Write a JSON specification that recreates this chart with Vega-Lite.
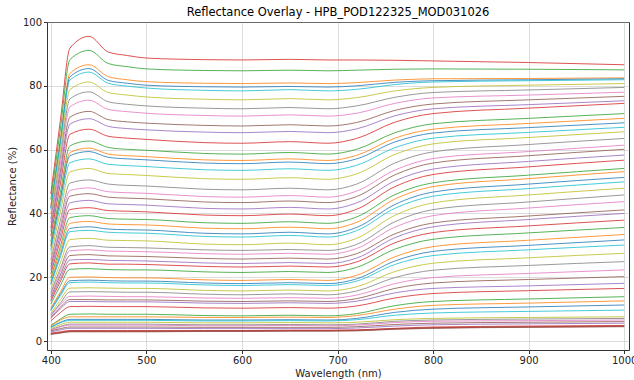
{
"$schema": "https://vega.github.io/schema/vega-lite/v6.json",
"width": 582, "height": 328,
"autosize": {"type": "none"},
"padding": {"left": 47, "top": 22, "right": 5, "bottom": 30},
"background": "white",
"title": {"text": "Reflectance Overlay - HPB_POD122325_MOD031026", "fontSize": 11.5, "fontWeight": "normal", "font": "DejaVu Sans", "color": "black", "offset": -1, "anchor": "middle"},
"config": {
 "view": {"stroke": "#333333", "strokeWidth": 1},
 "axis": {"domain": false, "tickColor": "#333333", "tickSize": 3.5, "labelFont": "DejaVu Sans", "labelFontSize": 10, "labelColor": "#222222", "titleFont": "DejaVu Sans", "titleFontSize": 10, "titleFontWeight": "normal", "titleColor": "#222222", "gridColor": "#b0b0b0", "gridOpacity": 0.55, "gridWidth": 0.8}
},
"data": {"values": [
{"s":1,"w":400,"r":46.1},{"s":1,"w":410,"r":69.2},{"s":1,"w":420,"r":91.8},{"s":1,"w":440,"r":95.5},{"s":1,"w":460,"r":90.6},{"s":1,"w":480,"r":89.5},{"s":1,"w":500,"r":88.7},{"s":1,"w":560,"r":88.2},{"s":1,"w":600,"r":88.1},{"s":1,"w":650,"r":88.3},{"s":1,"w":690,"r":88.1},{"s":1,"w":720,"r":88.1},{"s":1,"w":760,"r":88.0},{"s":1,"w":800,"r":87.8},{"s":1,"w":900,"r":87.3},{"s":1,"w":1000,"r":86.6},
{"s":2,"w":400,"r":44.4},{"s":2,"w":410,"r":66.5},{"s":2,"w":420,"r":88.2},{"s":2,"w":440,"r":91.1},{"s":2,"w":460,"r":87.0},{"s":2,"w":480,"r":86.0},{"s":2,"w":500,"r":85.3},{"s":2,"w":560,"r":84.8},{"s":2,"w":600,"r":84.7},{"s":2,"w":650,"r":84.9},{"s":2,"w":690,"r":84.7},{"s":2,"w":720,"r":84.9},{"s":2,"w":760,"r":85.2},{"s":2,"w":800,"r":85.3},{"s":2,"w":900,"r":85.2},{"s":2,"w":1000,"r":85.0},
{"s":3,"w":400,"r":42.3},{"s":3,"w":410,"r":63.4},{"s":3,"w":420,"r":83.9},{"s":3,"w":440,"r":86.6},{"s":3,"w":460,"r":82.9},{"s":3,"w":480,"r":81.9},{"s":3,"w":500,"r":81.3},{"s":3,"w":560,"r":80.8},{"s":3,"w":600,"r":80.7},{"s":3,"w":650,"r":80.9},{"s":3,"w":690,"r":80.7},{"s":3,"w":720,"r":81.0},{"s":3,"w":760,"r":81.8},{"s":3,"w":800,"r":82.2},{"s":3,"w":900,"r":82.3},{"s":3,"w":1000,"r":82.5},
{"s":4,"w":400,"r":41.7},{"s":4,"w":410,"r":62.6},{"s":4,"w":420,"r":82.8},{"s":4,"w":440,"r":85.4},{"s":4,"w":460,"r":81.7},{"s":4,"w":480,"r":80.8},{"s":4,"w":500,"r":80.2},{"s":4,"w":560,"r":79.7},{"s":4,"w":600,"r":79.6},{"s":4,"w":650,"r":79.8},{"s":4,"w":690,"r":79.6},{"s":4,"w":720,"r":80.0},{"s":4,"w":760,"r":81.1},{"s":4,"w":800,"r":81.6},{"s":4,"w":900,"r":81.9},{"s":4,"w":1000,"r":82.2},
{"s":5,"w":400,"r":41.2},{"s":5,"w":410,"r":61.9},{"s":5,"w":420,"r":81.8},{"s":5,"w":440,"r":84.3},{"s":5,"w":460,"r":80.8},{"s":5,"w":480,"r":79.9},{"s":5,"w":500,"r":79.3},{"s":5,"w":560,"r":78.6},{"s":5,"w":600,"r":78.4},{"s":5,"w":650,"r":78.8},{"s":5,"w":690,"r":78.4},{"s":5,"w":720,"r":78.9},{"s":5,"w":760,"r":80.4},{"s":5,"w":800,"r":81.2},{"s":5,"w":900,"r":81.6},{"s":5,"w":1000,"r":81.9},
{"s":6,"w":400,"r":39.8},{"s":6,"w":410,"r":59.7},{"s":6,"w":420,"r":78.8},{"s":6,"w":440,"r":81.2},{"s":6,"w":460,"r":77.9},{"s":6,"w":480,"r":77.1},{"s":6,"w":500,"r":76.5},{"s":6,"w":560,"r":75.8},{"s":6,"w":600,"r":75.6},{"s":6,"w":650,"r":76.0},{"s":6,"w":690,"r":75.6},{"s":6,"w":720,"r":76.3},{"s":6,"w":760,"r":78.4},{"s":6,"w":800,"r":79.5},{"s":6,"w":900,"r":80.2},{"s":6,"w":1000,"r":80.7},
{"s":7,"w":400,"r":38.3},{"s":7,"w":410,"r":57.5},{"s":7,"w":420,"r":75.9},{"s":7,"w":440,"r":78.1},{"s":7,"w":460,"r":75.0},{"s":7,"w":480,"r":74.2},{"s":7,"w":500,"r":73.7},{"s":7,"w":560,"r":73.0},{"s":7,"w":600,"r":72.8},{"s":7,"w":650,"r":73.2},{"s":7,"w":690,"r":72.8},{"s":7,"w":720,"r":73.7},{"s":7,"w":760,"r":76.4},{"s":7,"w":800,"r":77.9},{"s":7,"w":900,"r":78.7},{"s":7,"w":1000,"r":79.5},
{"s":8,"w":400,"r":37.1},{"s":8,"w":410,"r":55.7},{"s":8,"w":420,"r":73.4},{"s":8,"w":440,"r":75.5},{"s":8,"w":460,"r":72.6},{"s":8,"w":480,"r":71.9},{"s":8,"w":500,"r":71.4},{"s":8,"w":560,"r":70.7},{"s":8,"w":600,"r":70.5},{"s":8,"w":650,"r":70.9},{"s":8,"w":690,"r":70.5},{"s":8,"w":720,"r":71.4},{"s":8,"w":760,"r":74.5},{"s":8,"w":800,"r":76.2},{"s":8,"w":900,"r":77.1},{"s":8,"w":1000,"r":78.0},
{"s":9,"w":400,"r":35.5},{"s":9,"w":410,"r":53.3},{"s":9,"w":420,"r":70.2},{"s":9,"w":440,"r":72.0},{"s":9,"w":460,"r":69.4},{"s":9,"w":480,"r":68.7},{"s":9,"w":500,"r":68.3},{"s":9,"w":560,"r":67.6},{"s":9,"w":600,"r":67.4},{"s":9,"w":650,"r":67.8},{"s":9,"w":690,"r":67.4},{"s":9,"w":720,"r":68.5},{"s":9,"w":760,"r":72.3},{"s":9,"w":800,"r":74.3},{"s":9,"w":900,"r":75.6},{"s":9,"w":1000,"r":76.7},
{"s":10,"w":400,"r":34.4},{"s":10,"w":410,"r":51.6},{"s":10,"w":420,"r":68.0},{"s":10,"w":440,"r":69.7},{"s":10,"w":460,"r":67.3},{"s":10,"w":480,"r":66.6},{"s":10,"w":500,"r":66.2},{"s":10,"w":560,"r":65.5},{"s":10,"w":600,"r":65.3},{"s":10,"w":650,"r":65.7},{"s":10,"w":690,"r":65.3},{"s":10,"w":720,"r":66.5},{"s":10,"w":760,"r":70.6},{"s":10,"w":800,"r":72.8},{"s":10,"w":900,"r":74.1},{"s":10,"w":1000,"r":75.3},
{"s":11,"w":400,"r":32.9},{"s":11,"w":410,"r":49.3},{"s":11,"w":420,"r":64.8},{"s":11,"w":440,"r":66.4},{"s":11,"w":460,"r":64.2},{"s":11,"w":480,"r":63.6},{"s":11,"w":500,"r":63.2},{"s":11,"w":560,"r":62.2},{"s":11,"w":600,"r":62.0},{"s":11,"w":650,"r":62.5},{"s":11,"w":690,"r":62.0},{"s":11,"w":720,"r":63.5},{"s":11,"w":760,"r":68.6},{"s":11,"w":800,"r":71.3},{"s":11,"w":900,"r":73.0},{"s":11,"w":1000,"r":74.5},
{"s":12,"w":400,"r":31.1},{"s":12,"w":410,"r":46.6},{"s":12,"w":420,"r":61.2},{"s":12,"w":440,"r":62.7},{"s":12,"w":460,"r":60.7},{"s":12,"w":480,"r":60.1},{"s":12,"w":500,"r":59.8},{"s":12,"w":560,"r":58.8},{"s":12,"w":600,"r":58.6},{"s":12,"w":650,"r":59.1},{"s":12,"w":690,"r":58.6},{"s":12,"w":720,"r":60.1},{"s":12,"w":760,"r":65.3},{"s":12,"w":800,"r":68.1},{"s":12,"w":900,"r":69.8},{"s":12,"w":1000,"r":71.3},
{"s":13,"w":400,"r":30.1},{"s":13,"w":410,"r":45.1},{"s":13,"w":420,"r":59.1},{"s":13,"w":440,"r":60.5},{"s":13,"w":460,"r":58.6},{"s":13,"w":480,"r":58.1},{"s":13,"w":500,"r":57.8},{"s":13,"w":560,"r":56.8},{"s":13,"w":600,"r":56.6},{"s":13,"w":650,"r":57.1},{"s":13,"w":690,"r":56.6},{"s":13,"w":720,"r":58.2},{"s":13,"w":760,"r":63.6},{"s":13,"w":800,"r":66.4},{"s":13,"w":900,"r":68.2},{"s":13,"w":1000,"r":69.8},
{"s":14,"w":400,"r":29.5},{"s":14,"w":410,"r":44.3},{"s":14,"w":420,"r":58.1},{"s":14,"w":440,"r":59.4},{"s":14,"w":460,"r":57.6},{"s":14,"w":480,"r":57.1},{"s":14,"w":500,"r":56.8},{"s":14,"w":560,"r":55.8},{"s":14,"w":600,"r":55.6},{"s":14,"w":650,"r":56.1},{"s":14,"w":690,"r":55.6},{"s":14,"w":720,"r":57.1},{"s":14,"w":760,"r":62.4},{"s":14,"w":800,"r":65.2},{"s":14,"w":900,"r":66.9},{"s":14,"w":1000,"r":68.4},
{"s":15,"w":400,"r":28.4},{"s":15,"w":410,"r":42.7},{"s":15,"w":420,"r":55.9},{"s":15,"w":440,"r":57.1},{"s":15,"w":460,"r":55.4},{"s":15,"w":480,"r":55.0},{"s":15,"w":500,"r":54.7},{"s":15,"w":560,"r":53.7},{"s":15,"w":600,"r":53.5},{"s":15,"w":650,"r":54.0},{"s":15,"w":690,"r":53.5},{"s":15,"w":720,"r":55.1},{"s":15,"w":760,"r":60.6},{"s":15,"w":800,"r":63.6},{"s":15,"w":900,"r":65.4},{"s":15,"w":1000,"r":67.0},
{"s":16,"w":400,"r":27.0},{"s":16,"w":410,"r":40.5},{"s":16,"w":420,"r":53.0},{"s":16,"w":440,"r":54.1},{"s":16,"w":460,"r":52.5},{"s":16,"w":480,"r":52.2},{"s":16,"w":500,"r":51.9},{"s":16,"w":560,"r":50.9},{"s":16,"w":600,"r":50.7},{"s":16,"w":650,"r":51.2},{"s":16,"w":690,"r":50.7},{"s":16,"w":720,"r":52.4},{"s":16,"w":760,"r":58.5},{"s":16,"w":800,"r":61.8},{"s":16,"w":900,"r":63.8},{"s":16,"w":1000,"r":65.6},
{"s":17,"w":400,"r":25.3},{"s":17,"w":410,"r":37.9},{"s":17,"w":420,"r":49.5},{"s":17,"w":440,"r":50.5},{"s":17,"w":460,"r":49.2},{"s":17,"w":480,"r":48.8},{"s":17,"w":500,"r":48.6},{"s":17,"w":560,"r":47.6},{"s":17,"w":600,"r":47.4},{"s":17,"w":650,"r":47.9},{"s":17,"w":690,"r":47.4},{"s":17,"w":720,"r":49.2},{"s":17,"w":760,"r":55.8},{"s":17,"w":800,"r":59.3},{"s":17,"w":900,"r":61.6},{"s":17,"w":1000,"r":63.5},
{"s":18,"w":400,"r":24.1},{"s":18,"w":410,"r":36.1},{"s":18,"w":420,"r":47.2},{"s":18,"w":440,"r":48.0},{"s":18,"w":460,"r":46.8},{"s":18,"w":480,"r":46.5},{"s":18,"w":500,"r":46.3},{"s":18,"w":560,"r":45.3},{"s":18,"w":600,"r":45.1},{"s":18,"w":650,"r":45.6},{"s":18,"w":690,"r":45.1},{"s":18,"w":720,"r":47.0},{"s":18,"w":760,"r":53.6},{"s":18,"w":800,"r":57.2},{"s":18,"w":900,"r":59.4},{"s":18,"w":1000,"r":61.4},
{"s":19,"w":400,"r":23.2},{"s":19,"w":410,"r":34.8},{"s":19,"w":420,"r":45.4},{"s":19,"w":440,"r":46.2},{"s":19,"w":460,"r":45.1},{"s":19,"w":480,"r":44.8},{"s":19,"w":500,"r":44.6},{"s":19,"w":560,"r":43.6},{"s":19,"w":600,"r":43.4},{"s":19,"w":650,"r":43.9},{"s":19,"w":690,"r":43.4},{"s":19,"w":720,"r":45.3},{"s":19,"w":760,"r":52.1},{"s":19,"w":800,"r":55.8},{"s":19,"w":900,"r":58.1},{"s":19,"w":1000,"r":60.1},
{"s":20,"w":400,"r":22.2},{"s":20,"w":410,"r":33.2},{"s":20,"w":420,"r":43.3},{"s":20,"w":440,"r":44.1},{"s":20,"w":460,"r":43.0},{"s":20,"w":480,"r":42.8},{"s":20,"w":500,"r":42.6},{"s":20,"w":560,"r":41.6},{"s":20,"w":600,"r":41.4},{"s":20,"w":650,"r":41.9},{"s":20,"w":690,"r":41.4},{"s":20,"w":720,"r":43.3},{"s":20,"w":760,"r":50.2},{"s":20,"w":800,"r":53.9},{"s":20,"w":900,"r":56.3},{"s":20,"w":1000,"r":58.3},
{"s":21,"w":400,"r":21.1},{"s":21,"w":410,"r":31.6},{"s":21,"w":420,"r":41.2},{"s":21,"w":440,"r":41.8},{"s":21,"w":460,"r":40.9},{"s":21,"w":480,"r":40.7},{"s":21,"w":500,"r":40.5},{"s":21,"w":560,"r":39.5},{"s":21,"w":600,"r":39.3},{"s":21,"w":650,"r":39.8},{"s":21,"w":690,"r":39.3},{"s":21,"w":720,"r":41.3},{"s":21,"w":760,"r":48.4},{"s":21,"w":800,"r":52.2},{"s":21,"w":900,"r":54.6},{"s":21,"w":1000,"r":56.7},
{"s":22,"w":400,"r":19.8},{"s":22,"w":410,"r":29.7},{"s":22,"w":420,"r":38.7},{"s":22,"w":440,"r":39.3},{"s":22,"w":460,"r":38.4},{"s":22,"w":480,"r":38.2},{"s":22,"w":500,"r":38.1},{"s":22,"w":560,"r":37.1},{"s":22,"w":600,"r":36.9},{"s":22,"w":650,"r":37.4},{"s":22,"w":690,"r":36.9},{"s":22,"w":720,"r":38.9},{"s":22,"w":760,"r":45.9},{"s":22,"w":800,"r":49.6},{"s":22,"w":900,"r":52.0},{"s":22,"w":1000,"r":54.1},
{"s":23,"w":400,"r":18.9},{"s":23,"w":410,"r":28.4},{"s":23,"w":420,"r":36.9},{"s":23,"w":440,"r":37.5},{"s":23,"w":460,"r":36.7},{"s":23,"w":480,"r":36.5},{"s":23,"w":500,"r":36.4},{"s":23,"w":560,"r":35.4},{"s":23,"w":600,"r":35.2},{"s":23,"w":650,"r":35.7},{"s":23,"w":690,"r":35.2},{"s":23,"w":720,"r":37.2},{"s":23,"w":760,"r":44.5},{"s":23,"w":800,"r":48.4},{"s":23,"w":900,"r":50.9},{"s":23,"w":1000,"r":53.1},
{"s":24,"w":400,"r":18.1},{"s":24,"w":410,"r":27.1},{"s":24,"w":420,"r":35.3},{"s":24,"w":440,"r":35.8},{"s":24,"w":460,"r":35.1},{"s":24,"w":480,"r":34.9},{"s":24,"w":500,"r":34.8},{"s":24,"w":560,"r":33.8},{"s":24,"w":600,"r":33.6},{"s":24,"w":650,"r":34.1},{"s":24,"w":690,"r":33.6},{"s":24,"w":720,"r":35.6},{"s":24,"w":760,"r":42.8},{"s":24,"w":800,"r":46.7},{"s":24,"w":900,"r":49.2},{"s":24,"w":1000,"r":51.3},
{"s":25,"w":400,"r":17.6},{"s":25,"w":410,"r":26.4},{"s":25,"w":420,"r":34.3},{"s":25,"w":440,"r":34.7},{"s":25,"w":460,"r":34.1},{"s":25,"w":480,"r":33.9},{"s":25,"w":500,"r":33.8},{"s":25,"w":560,"r":32.8},{"s":25,"w":600,"r":32.6},{"s":25,"w":650,"r":33.1},{"s":25,"w":690,"r":32.6},{"s":25,"w":720,"r":34.6},{"s":25,"w":760,"r":41.6},{"s":25,"w":800,"r":45.4},{"s":25,"w":900,"r":47.8},{"s":25,"w":1000,"r":49.9},
{"s":26,"w":400,"r":16.3},{"s":26,"w":410,"r":24.5},{"s":26,"w":420,"r":31.8},{"s":26,"w":440,"r":32.2},{"s":26,"w":460,"r":31.6},{"s":26,"w":480,"r":31.5},{"s":26,"w":500,"r":31.4},{"s":26,"w":560,"r":30.4},{"s":26,"w":600,"r":30.2},{"s":26,"w":650,"r":30.7},{"s":26,"w":690,"r":30.2},{"s":26,"w":720,"r":32.2},{"s":26,"w":760,"r":39.4},{"s":26,"w":800,"r":43.3},{"s":26,"w":900,"r":45.8},{"s":26,"w":1000,"r":47.9},
{"s":27,"w":400,"r":15.2},{"s":27,"w":410,"r":22.8},{"s":27,"w":420,"r":29.5},{"s":27,"w":440,"r":29.9},{"s":27,"w":460,"r":29.4},{"s":27,"w":480,"r":29.3},{"s":27,"w":500,"r":29.2},{"s":27,"w":560,"r":28.6},{"s":27,"w":600,"r":28.4},{"s":27,"w":650,"r":28.7},{"s":27,"w":690,"r":28.4},{"s":27,"w":720,"r":30.3},{"s":27,"w":760,"r":37.4},{"s":27,"w":800,"r":41.2},{"s":27,"w":900,"r":43.6},{"s":27,"w":1000,"r":45.8},
{"s":28,"w":400,"r":14.6},{"s":28,"w":410,"r":21.8},{"s":28,"w":420,"r":28.3},{"s":28,"w":440,"r":28.6},{"s":28,"w":460,"r":28.2},{"s":28,"w":480,"r":28.1},{"s":28,"w":500,"r":28.0},{"s":28,"w":560,"r":27.4},{"s":28,"w":600,"r":27.2},{"s":28,"w":650,"r":27.5},{"s":28,"w":690,"r":27.2},{"s":28,"w":720,"r":29.0},{"s":28,"w":760,"r":35.7},{"s":28,"w":800,"r":39.3},{"s":28,"w":900,"r":41.7},{"s":28,"w":1000,"r":43.7},
{"s":29,"w":400,"r":13.8},{"s":29,"w":410,"r":20.7},{"s":29,"w":420,"r":26.8},{"s":29,"w":440,"r":27.1},{"s":29,"w":460,"r":26.7},{"s":29,"w":480,"r":26.6},{"s":29,"w":500,"r":26.5},{"s":29,"w":560,"r":25.9},{"s":29,"w":600,"r":25.7},{"s":29,"w":650,"r":26.0},{"s":29,"w":690,"r":25.7},{"s":29,"w":720,"r":27.4},{"s":29,"w":760,"r":33.6},{"s":29,"w":800,"r":37.0},{"s":29,"w":900,"r":39.2},{"s":29,"w":1000,"r":41.1},
{"s":30,"w":400,"r":13.1},{"s":30,"w":410,"r":19.6},{"s":30,"w":420,"r":25.4},{"s":30,"w":440,"r":25.6},{"s":30,"w":460,"r":25.3},{"s":30,"w":480,"r":25.2},{"s":30,"w":500,"r":25.1},{"s":30,"w":560,"r":24.5},{"s":30,"w":600,"r":24.3},{"s":30,"w":650,"r":24.6},{"s":30,"w":690,"r":24.3},{"s":30,"w":720,"r":26.0},{"s":30,"w":760,"r":32.4},{"s":30,"w":800,"r":35.8},{"s":30,"w":900,"r":38.1},{"s":30,"w":1000,"r":40.0},
{"s":31,"w":400,"r":12.5},{"s":31,"w":410,"r":18.7},{"s":31,"w":420,"r":24.2},{"s":31,"w":440,"r":24.5},{"s":31,"w":460,"r":24.1},{"s":31,"w":480,"r":24.1},{"s":31,"w":500,"r":24.0},{"s":31,"w":560,"r":23.4},{"s":31,"w":600,"r":23.2},{"s":31,"w":650,"r":23.5},{"s":31,"w":690,"r":23.2},{"s":31,"w":720,"r":24.8},{"s":31,"w":760,"r":30.8},{"s":31,"w":800,"r":34.0},{"s":31,"w":900,"r":36.1},{"s":31,"w":1000,"r":37.9},
{"s":32,"w":400,"r":11.6},{"s":32,"w":410,"r":17.4},{"s":32,"w":420,"r":22.5},{"s":32,"w":440,"r":22.7},{"s":32,"w":460,"r":22.4},{"s":32,"w":480,"r":22.3},{"s":32,"w":500,"r":22.3},{"s":32,"w":560,"r":21.7},{"s":32,"w":600,"r":21.5},{"s":32,"w":650,"r":21.8},{"s":32,"w":690,"r":21.5},{"s":32,"w":720,"r":23.1},{"s":32,"w":760,"r":28.8},{"s":32,"w":800,"r":31.9},{"s":32,"w":900,"r":33.9},{"s":32,"w":1000,"r":35.6},
{"s":33,"w":400,"r":10.3},{"s":33,"w":410,"r":15.4},{"s":33,"w":420,"r":20.0},{"s":33,"w":440,"r":20.1},{"s":33,"w":460,"r":19.9},{"s":33,"w":480,"r":19.8},{"s":33,"w":500,"r":19.8},{"s":33,"w":560,"r":19.2},{"s":33,"w":600,"r":19.0},{"s":33,"w":650,"r":19.3},{"s":33,"w":690,"r":19.0},{"s":33,"w":720,"r":20.6},{"s":33,"w":760,"r":26.4},{"s":33,"w":800,"r":29.6},{"s":33,"w":900,"r":31.6},{"s":33,"w":1000,"r":33.4},
{"s":34,"w":400,"r":9.8},{"s":34,"w":410,"r":14.7},{"s":34,"w":420,"r":18.9},{"s":34,"w":440,"r":19.1},{"s":34,"w":460,"r":18.9},{"s":34,"w":480,"r":18.8},{"s":34,"w":500,"r":18.8},{"s":34,"w":560,"r":18.2},{"s":34,"w":600,"r":18.0},{"s":34,"w":650,"r":18.3},{"s":34,"w":690,"r":18.0},{"s":34,"w":720,"r":19.5},{"s":34,"w":760,"r":25.1},{"s":34,"w":800,"r":28.1},{"s":34,"w":900,"r":30.0},{"s":34,"w":1000,"r":31.7},
{"s":35,"w":400,"r":9.5},{"s":35,"w":410,"r":14.2},{"s":35,"w":420,"r":18.3},{"s":35,"w":440,"r":18.5},{"s":35,"w":460,"r":18.3},{"s":35,"w":480,"r":18.2},{"s":35,"w":500,"r":18.2},{"s":35,"w":560,"r":17.6},{"s":35,"w":600,"r":17.4},{"s":35,"w":650,"r":17.7},{"s":35,"w":690,"r":17.4},{"s":35,"w":720,"r":18.8},{"s":35,"w":760,"r":24.0},{"s":35,"w":800,"r":26.8},{"s":35,"w":900,"r":28.6},{"s":35,"w":1000,"r":30.1},
{"s":36,"w":400,"r":8.6},{"s":36,"w":410,"r":12.9},{"s":36,"w":420,"r":16.6},{"s":36,"w":440,"r":16.7},{"s":36,"w":460,"r":16.6},{"s":36,"w":480,"r":16.5},{"s":36,"w":500,"r":16.5},{"s":36,"w":560,"r":15.9},{"s":36,"w":600,"r":15.7},{"s":36,"w":650,"r":16.0},{"s":36,"w":690,"r":15.7},{"s":36,"w":720,"r":17.0},{"s":36,"w":760,"r":21.8},{"s":36,"w":800,"r":24.4},{"s":36,"w":900,"r":26.1},{"s":36,"w":1000,"r":27.5},
{"s":37,"w":400,"r":8.2},{"s":37,"w":410,"r":11.9},{"s":37,"w":420,"r":15.4},{"s":37,"w":440,"r":15.5},{"s":37,"w":460,"r":15.4},{"s":37,"w":480,"r":15.3},{"s":37,"w":500,"r":15.3},{"s":37,"w":560,"r":14.7},{"s":37,"w":600,"r":14.5},{"s":37,"w":650,"r":14.8},{"s":37,"w":690,"r":14.5},{"s":37,"w":720,"r":15.7},{"s":37,"w":760,"r":19.9},{"s":37,"w":800,"r":22.2},{"s":37,"w":900,"r":23.7},{"s":37,"w":1000,"r":24.9},
{"s":38,"w":400,"r":7.9},{"s":38,"w":410,"r":11.4},{"s":38,"w":420,"r":14.0},{"s":38,"w":440,"r":14.1},{"s":38,"w":460,"r":14.0},{"s":38,"w":480,"r":13.9},{"s":38,"w":500,"r":13.9},{"s":38,"w":560,"r":13.5},{"s":38,"w":600,"r":13.4},{"s":38,"w":650,"r":13.6},{"s":38,"w":690,"r":13.4},{"s":38,"w":720,"r":14.4},{"s":38,"w":760,"r":18.0},{"s":38,"w":800,"r":19.9},{"s":38,"w":900,"r":21.2},{"s":38,"w":1000,"r":22.3},
{"s":39,"w":400,"r":7.4},{"s":39,"w":410,"r":10.6},{"s":39,"w":420,"r":13.0},{"s":39,"w":440,"r":13.0},{"s":39,"w":460,"r":12.9},{"s":39,"w":480,"r":12.9},{"s":39,"w":500,"r":12.9},{"s":39,"w":560,"r":12.5},{"s":39,"w":600,"r":12.4},{"s":39,"w":650,"r":12.6},{"s":39,"w":690,"r":12.4},{"s":39,"w":720,"r":13.3},{"s":39,"w":760,"r":16.5},{"s":39,"w":800,"r":18.2},{"s":39,"w":900,"r":19.3},{"s":39,"w":1000,"r":20.2},
{"s":40,"w":400,"r":7.1},{"s":40,"w":410,"r":10.1},{"s":40,"w":420,"r":12.4},{"s":40,"w":440,"r":12.4},{"s":40,"w":460,"r":12.3},{"s":40,"w":480,"r":12.3},{"s":40,"w":500,"r":12.3},{"s":40,"w":560,"r":11.9},{"s":40,"w":600,"r":11.8},{"s":40,"w":650,"r":12.0},{"s":40,"w":690,"r":11.8},{"s":40,"w":720,"r":12.5},{"s":40,"w":760,"r":15.1},{"s":40,"w":800,"r":16.5},{"s":40,"w":900,"r":17.3},{"s":40,"w":1000,"r":18.1},
{"s":41,"w":400,"r":6.3},{"s":41,"w":410,"r":8.9},{"s":41,"w":420,"r":10.8},{"s":41,"w":440,"r":10.9},{"s":41,"w":460,"r":10.8},{"s":41,"w":480,"r":10.8},{"s":41,"w":500,"r":10.8},{"s":41,"w":560,"r":10.4},{"s":41,"w":600,"r":10.3},{"s":41,"w":650,"r":10.5},{"s":41,"w":690,"r":10.3},{"s":41,"w":720,"r":11.0},{"s":41,"w":760,"r":13.5},{"s":41,"w":800,"r":14.9},{"s":41,"w":900,"r":15.8},{"s":41,"w":1000,"r":16.5},
{"s":42,"w":400,"r":4.9},{"s":42,"w":410,"r":6.9},{"s":42,"w":420,"r":8.4},{"s":42,"w":440,"r":8.5},{"s":42,"w":460,"r":8.4},{"s":42,"w":480,"r":8.4},{"s":42,"w":500,"r":8.4},{"s":42,"w":560,"r":8.0},{"s":42,"w":600,"r":7.9},{"s":42,"w":650,"r":8.1},{"s":42,"w":690,"r":7.9},{"s":42,"w":720,"r":8.6},{"s":42,"w":760,"r":11.1},{"s":42,"w":800,"r":12.4},{"s":42,"w":900,"r":13.2},{"s":42,"w":1000,"r":13.9},
{"s":43,"w":400,"r":4.7},{"s":43,"w":410,"r":6.6},{"s":43,"w":420,"r":7.6},{"s":43,"w":440,"r":7.6},{"s":43,"w":460,"r":7.6},{"s":43,"w":480,"r":7.6},{"s":43,"w":500,"r":7.6},{"s":43,"w":560,"r":7.4},{"s":43,"w":600,"r":7.4},{"s":43,"w":650,"r":7.5},{"s":43,"w":690,"r":7.4},{"s":43,"w":720,"r":8.0},{"s":43,"w":760,"r":10.0},{"s":43,"w":800,"r":11.2},{"s":43,"w":900,"r":11.9},{"s":43,"w":1000,"r":12.6},
{"s":44,"w":400,"r":4.4},{"s":44,"w":410,"r":5.9},{"s":44,"w":420,"r":6.8},{"s":44,"w":440,"r":6.8},{"s":44,"w":460,"r":6.8},{"s":44,"w":480,"r":6.8},{"s":44,"w":500,"r":6.8},{"s":44,"w":560,"r":6.6},{"s":44,"w":600,"r":6.6},{"s":44,"w":650,"r":6.7},{"s":44,"w":690,"r":6.6},{"s":44,"w":720,"r":7.1},{"s":44,"w":760,"r":9.0},{"s":44,"w":800,"r":10.0},{"s":44,"w":900,"r":10.7},{"s":44,"w":1000,"r":11.3},
{"s":45,"w":400,"r":4.2},{"s":45,"w":410,"r":5.7},{"s":45,"w":420,"r":6.5},{"s":45,"w":440,"r":6.5},{"s":45,"w":460,"r":6.5},{"s":45,"w":480,"r":6.5},{"s":45,"w":500,"r":6.5},{"s":45,"w":560,"r":6.3},{"s":45,"w":600,"r":6.3},{"s":45,"w":650,"r":6.4},{"s":45,"w":690,"r":6.3},{"s":45,"w":720,"r":6.7},{"s":45,"w":760,"r":8.1},{"s":45,"w":800,"r":8.8},{"s":45,"w":900,"r":9.3},{"s":45,"w":1000,"r":9.7},
{"s":46,"w":400,"r":3.9},{"s":46,"w":410,"r":5.1},{"s":46,"w":420,"r":5.9},{"s":46,"w":440,"r":5.9},{"s":46,"w":460,"r":5.9},{"s":46,"w":480,"r":5.9},{"s":46,"w":500,"r":5.9},{"s":46,"w":560,"r":5.7},{"s":46,"w":600,"r":5.7},{"s":46,"w":650,"r":5.8},{"s":46,"w":690,"r":5.7},{"s":46,"w":720,"r":5.9},{"s":46,"w":760,"r":6.7},{"s":46,"w":800,"r":7.1},{"s":46,"w":900,"r":7.4},{"s":46,"w":1000,"r":7.6},
{"s":47,"w":400,"r":3.6},{"s":47,"w":410,"r":4.6},{"s":47,"w":420,"r":5.3},{"s":47,"w":440,"r":5.3},{"s":47,"w":460,"r":5.3},{"s":47,"w":480,"r":5.3},{"s":47,"w":500,"r":5.3},{"s":47,"w":560,"r":5.1},{"s":47,"w":600,"r":5.1},{"s":47,"w":650,"r":5.2},{"s":47,"w":690,"r":5.1},{"s":47,"w":720,"r":5.3},{"s":47,"w":760,"r":6.2},{"s":47,"w":800,"r":6.6},{"s":47,"w":900,"r":6.9},{"s":47,"w":1000,"r":7.1},
{"s":48,"w":400,"r":3.4},{"s":48,"w":410,"r":4.4},{"s":48,"w":420,"r":5.0},{"s":48,"w":440,"r":5.0},{"s":48,"w":460,"r":5.0},{"s":48,"w":480,"r":5.0},{"s":48,"w":500,"r":5.0},{"s":48,"w":560,"r":4.8},{"s":48,"w":600,"r":4.8},{"s":48,"w":650,"r":4.9},{"s":48,"w":690,"r":4.8},{"s":48,"w":720,"r":5.0},{"s":48,"w":760,"r":5.8},{"s":48,"w":800,"r":6.2},{"s":48,"w":900,"r":6.4},{"s":48,"w":1000,"r":6.6},
{"s":49,"w":400,"r":3.2},{"s":49,"w":410,"r":3.9},{"s":49,"w":420,"r":4.4},{"s":49,"w":440,"r":4.4},{"s":49,"w":460,"r":4.4},{"s":49,"w":480,"r":4.4},{"s":49,"w":500,"r":4.4},{"s":49,"w":560,"r":4.3},{"s":49,"w":600,"r":4.3},{"s":49,"w":650,"r":4.3},{"s":49,"w":690,"r":4.3},{"s":49,"w":720,"r":4.5},{"s":49,"w":760,"r":5.2},{"s":49,"w":800,"r":5.6},{"s":49,"w":900,"r":5.9},{"s":49,"w":1000,"r":6.1},
{"s":50,"w":400,"r":2.9},{"s":50,"w":410,"r":3.5},{"s":50,"w":420,"r":4.0},{"s":50,"w":440,"r":4.0},{"s":50,"w":460,"r":4.0},{"s":50,"w":480,"r":4.0},{"s":50,"w":500,"r":4.0},{"s":50,"w":560,"r":3.9},{"s":50,"w":600,"r":3.9},{"s":50,"w":650,"r":3.9},{"s":50,"w":690,"r":3.9},{"s":50,"w":720,"r":4.1},{"s":50,"w":760,"r":4.7},{"s":50,"w":800,"r":5.1},{"s":50,"w":900,"r":5.4},{"s":50,"w":1000,"r":5.6},
{"s":51,"w":400,"r":2.5},{"s":51,"w":410,"r":2.9},{"s":51,"w":420,"r":3.3},{"s":51,"w":440,"r":3.3},{"s":51,"w":460,"r":3.3},{"s":51,"w":480,"r":3.3},{"s":51,"w":500,"r":3.3},{"s":51,"w":560,"r":3.3},{"s":51,"w":600,"r":3.3},{"s":51,"w":650,"r":3.4},{"s":51,"w":690,"r":3.4},{"s":51,"w":720,"r":3.5},{"s":51,"w":760,"r":4.0},{"s":51,"w":800,"r":4.4},{"s":51,"w":900,"r":4.7},{"s":51,"w":1000,"r":4.9},
{"s":52,"w":400,"r":2.3},{"s":52,"w":410,"r":2.7},{"s":52,"w":420,"r":3.1},{"s":52,"w":440,"r":3.1},{"s":52,"w":460,"r":3.1},{"s":52,"w":480,"r":3.1},{"s":52,"w":500,"r":3.1},{"s":52,"w":560,"r":3.2},{"s":52,"w":600,"r":3.2},{"s":52,"w":650,"r":3.3},{"s":52,"w":690,"r":3.3},{"s":52,"w":720,"r":3.4},{"s":52,"w":760,"r":3.9},{"s":52,"w":800,"r":4.2},{"s":52,"w":900,"r":4.5},{"s":52,"w":1000,"r":4.7},
{"s":53,"w":400,"r":2.2},{"s":53,"w":410,"r":2.6},{"s":53,"w":420,"r":3.0},{"s":53,"w":440,"r":3.0},{"s":53,"w":460,"r":3.0},{"s":53,"w":480,"r":3.0},{"s":53,"w":500,"r":3.0},{"s":53,"w":560,"r":3.1},{"s":53,"w":600,"r":3.1},{"s":53,"w":650,"r":3.2},{"s":53,"w":690,"r":3.2},{"s":53,"w":720,"r":3.3},{"s":53,"w":760,"r":3.8},{"s":53,"w":800,"r":4.1},{"s":53,"w":900,"r":4.4},{"s":53,"w":1000,"r":4.6},
{"s":54,"w":400,"r":2.1},{"s":54,"w":410,"r":2.5},{"s":54,"w":420,"r":2.9},{"s":54,"w":440,"r":2.9},{"s":54,"w":460,"r":2.9},{"s":54,"w":480,"r":2.9},{"s":54,"w":500,"r":2.9},{"s":54,"w":560,"r":3.0},{"s":54,"w":600,"r":3.0},{"s":54,"w":650,"r":3.1},{"s":54,"w":690,"r":3.1},{"s":54,"w":720,"r":3.2},{"s":54,"w":760,"r":3.7},{"s":54,"w":800,"r":4.0},{"s":54,"w":900,"r":4.3},{"s":54,"w":1000,"r":4.5}
]},
"mark": {"type": "line", "strokeWidth": 1, "opacity": 0.8, "interpolate": "monotone", "clip": true},
"encoding": {
 "x": {"field": "w", "type": "quantitative", "scale": {"domain": [396, 1005], "nice": false, "zero": false}, "axis": {"values": [400, 500, 600, 700, 800, 900, 1000], "format": "d", "title": "Wavelength (nm)", "titlePadding": 3, "labelPadding": 2}},
 "y": {"field": "r", "type": "quantitative", "scale": {"domain": [-2.8, 100], "nice": false, "zero": false}, "axis": {"values": [0, 20, 40, 60, 80, 100], "title": "Reflectance (%)", "titlePadding": 5, "labelPadding": 2}},
 "color": {"field": "s", "type": "ordinal", "legend": null, "scale": {
   "domain": [1,2,3,4,5,6,7,8,9,10,11,12,13,14,15,16,17,18,19,20,21,22,23,24,25,26,27,28,29,30,31,32,33,34,35,36,37,38,39,40,41,42,43,44,45,46,47,48,49,50,51,52,53,54],
   "range": ["#d62728","#2ca02c","#ff7f0e","#1f77b4","#17becf","#bcbd22","#7f7f7f","#e377c2","#8c564b","#9467bd",
             "#d62728","#2ca02c","#ff7f0e","#1f77b4","#17becf","#bcbd22","#7f7f7f","#e377c2","#8c564b","#9467bd",
             "#d62728","#2ca02c","#ff7f0e","#1f77b4","#17becf","#bcbd22","#7f7f7f","#e377c2","#8c564b","#9467bd",
             "#d62728","#2ca02c","#ff7f0e","#1f77b4","#17becf","#bcbd22","#7f7f7f","#e377c2","#8c564b","#9467bd",
             "#d62728","#2ca02c","#ff7f0e","#1f77b4","#17becf","#bcbd22","#7f7f7f","#e377c2","#8c564b","#9467bd",
             "#d62728","#8c564b","#d62728","#8c564b"]}}
}
}
